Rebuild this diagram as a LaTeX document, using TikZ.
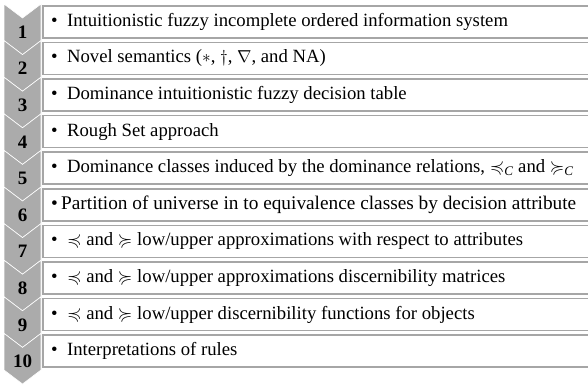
\documentclass[tikz,border=0pt]{standalone}
\usepackage{amsmath,amssymb}
\usepackage{fontspec}
\setmainfont{Liberation Serif}
\usetikzlibrary{positioning}
\tikzset{
  stepchevron/.style={fill=black!33,draw=white,line width=0.6pt},
  stepnumber/.style={font=\bfseries\fontsize{19}{19}\selectfont,inner sep=0pt},
  itembox/.style={draw=black!35,line width=1.6pt,fill=white,inner sep=0pt,
    minimum width=560pt,minimum height=32pt,anchor=north west},
  itemtext/.style={anchor=west,inner sep=0pt,font=\fontsize{18.7}{21}\selectfont}
}
\newcommand{\itemdot}{\textbullet\hspace{0.5em}}

\begin{document}
\begin{tikzpicture}[x=1pt,y=-1pt]
  \useasboundingbox (0,0) rectangle (588,386);
  % boxes with the listed items
  \foreach \i/\txt in {
    1/{\itemdot Intuitionistic fuzzy incomplete ordered information system},
    2/{\itemdot Novel semantics ($\ast$, $\dagger$, $\nabla$, and NA)},
    3/{\itemdot Dominance intuitionistic fuzzy decision table},
    4/{\itemdot Rough Set approach},
    5/{\itemdot Dominance classes induced by the dominance relations, $\preccurlyeq_{\textit{C}}$ and $\succcurlyeq_{\textit{C}}$},
    6/{\fontsize{19.3}{21}\selectfont\textbullet\,Partition of universe in to equivalence classes by decision attribute},
    7/{\itemdot $\preccurlyeq$ and $\succcurlyeq$ low/upper approximations with respect to attributes},
    8/{\itemdot $\preccurlyeq$ and $\succcurlyeq$ low/upper approximations discernibility matrices},
    9/{\itemdot $\preccurlyeq$ and $\succcurlyeq$ low/upper discernibility functions for objects},
    10/{\itemdot Interpretations of rules}} {
    \pgfmathsetmacro{\boxtop}{5+(\i-1)*36.6}
    \node[itembox] (box\i) at (42,\boxtop) {};
    \node[itemtext,right=9pt of box\i.west] (text\i) {\txt};
  }
  % chevrons with the step numbers
  \foreach \i in {1,...,10} {
    \pgfmathsetmacro{\chevtop}{4+(\i-1)*36.6}
    \pgfmathsetmacro{\chevbot}{\chevtop+36.6}
    \draw[stepchevron] (4,\chevtop) -- (22.5,\chevtop+14) -- (41,\chevtop) -- (41,\chevbot)
      -- (22.5,\chevbot+14) -- (4,\chevbot) -- cycle;
    \node[stepnumber] (num\i) at (22.5,\chevtop+28) {\i};
  }
\end{tikzpicture}
\end{document}
